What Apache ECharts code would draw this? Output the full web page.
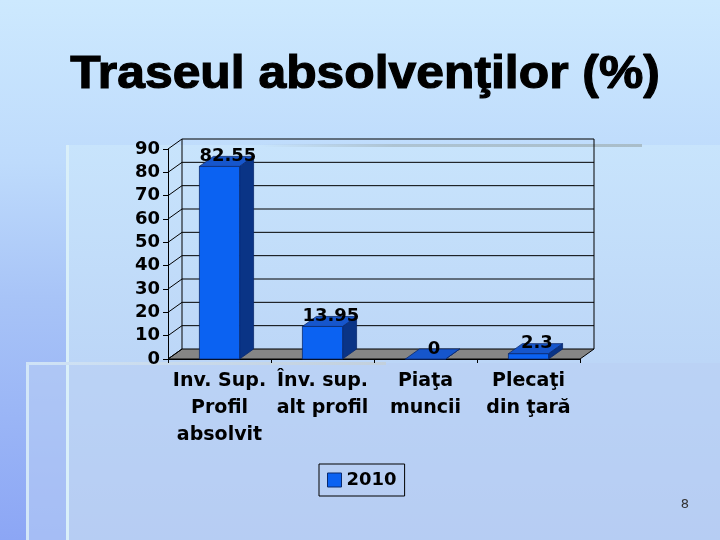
<!DOCTYPE html>
<html>
<head>
<meta charset="utf-8">
<script src="https://cdn.jsdelivr.net/npm/echarts@6/dist/echarts.min.js"></script>
<style>
html,body{margin:0;padding:0;width:720px;height:540px;overflow:hidden;}
#chart{width:720px;height:540px;}
</style>
</head>
<body>
<div id="chart"></div>
<script>
const titleText = 'Traseul absolvenţilor (%)';
const categories = ['Inv. Sup.\nProfil\nabsolvit', 'Înv. sup.\nalt profil', 'Piaţa\nmuncii', 'Plecaţi\ndin ţară'];
const seriesName = '2010';
const values2010 = [82.55, 13.95, 0, 2.3];
const yTicks = [0, 10, 20, 30, 40, 50, 60, 70, 80, 90];
const pageNumber = '8';

const DX = 14, DY = -10;
const FONT = 'DejaVu Sans';

const chart = echarts.init(document.getElementById('chart'));

function wallItem(params, api) {
  const cs = params.coordSys;
  const v = api.value(1);
  const y = api.coord([0, v])[1];
  const L = cs.x, R = cs.x + cs.width;
  const children = [];
  const ls = {stroke: '#000', lineWidth: 1};
  if (v === 0) {
    children.push({type: 'polygon', shape: {points: [[L, y], [R, y], [R + DX, y + DY], [L + DX, y + DY]]},
      style: {fill: '#858585', stroke: '#000', lineWidth: 1}});
    children.push({type: 'line', shape: {x1: L + DX, y1: y + DY, x2: L + DX, y2: cs.y + DY}, style: ls});
    children.push({type: 'line', shape: {x1: R + DX, y1: y + DY, x2: R + DX, y2: cs.y + DY}, style: ls});
  } else {
    children.push({type: 'line', shape: {x1: L + DX, y1: y + DY, x2: R + DX, y2: y + DY}, style: ls});
  }
  children.push({type: 'line', shape: {x1: L, y1: y, x2: L + DX, y2: y + DY}, style: ls});
  return {type: 'group', children: children};
}

function barItem(params, api) {
  const idx = api.value(0), v = api.value(1);
  const base = api.coord([idx, 0]);
  const top = api.coord([idx, v]);
  const bw = api.size([1, 0])[0] * 0.39;
  const l = base[0] - bw / 2, r = base[0] + bw / 2;
  const t = top[1], b = base[1];
  const edge = '#0a2a6e';
  return {type: 'group', children: [
    {type: 'polygon', shape: {points: [[r, t], [r + DX, t + DY], [r + DX, b + DY], [r, b]]},
      style: {fill: '#0a3486', stroke: edge, lineWidth: 0.8}},
    {type: 'rect', shape: {x: l, y: t, width: bw, height: b - t},
      style: {fill: '#0b62f2', stroke: edge, lineWidth: 0.8}},
    {type: 'polygon', shape: {points: [[l, t], [r, t], [r + DX, t + DY], [l + DX, t + DY]]},
      style: {fill: '#1656cc', stroke: edge, lineWidth: 0.8}},
    {type: 'text', x: base[0] + DX * 0.6, y: t + DY,
      style: {text: String(v), fill: '#000', font: 'bold 18px "' + FONT + '"', align: 'center', verticalAlign: 'middle'}}
  ]};
}

const option = {
  backgroundColor: 'transparent',
  animation: false,
  graphic: [
    {type: 'rect', z: -20, shape: {x: 0, y: 0, width: 720, height: 540},
      style: {fill: new echarts.graphic.LinearGradient(0, 0, 0, 1, [
        {offset: 0, color: '#cde9fe'}, {offset: 0.3, color: '#bedbfc'}, {offset: 0.55, color: '#a8c4f7'}, {offset: 1, color: '#8ca6f5'}])}},
    {type: 'rect', z: -19, shape: {x: 68, y: 145, width: 652, height: 395},
      style: {fill: new echarts.graphic.LinearGradient(0, 0, 0, 1, [
        {offset: 0, color: '#c8e4fc'}, {offset: 0.55, color: '#bcd6f7'}, {offset: 1, color: '#b2caf1'}])}},
    {type: 'rect', z: -18, shape: {x: 27, y: 363, width: 693, height: 177},
      style: {fill: 'rgba(186,208,244,0.55)'}},
    {type: 'rect', z: -17, shape: {x: 66, y: 145, width: 3, height: 395}, style: {fill: '#d9eff9'}},
    {type: 'rect', z: -17, shape: {x: 26, y: 363, width: 3, height: 177}, style: {fill: '#d2e6f8'}},
    {type: 'rect', z: -17, shape: {x: 26, y: 362, width: 360, height: 3},
      style: {fill: new echarts.graphic.LinearGradient(0, 0, 1, 0, [
        {offset: 0, color: '#cfe3f7'}, {offset: 1, color: '#c3d0dc'}])}},
    {type: 'rect', z: -17, shape: {x: 260, y: 144, width: 382, height: 3},
      style: {fill: new echarts.graphic.LinearGradient(0, 0, 1, 0, [
        {offset: 0, color: 'rgba(168,188,200,0)'}, {offset: 0.35, color: 'rgba(168,188,200,0.8)'}, {offset: 1, color: '#a9bdc9'}])}},
    {type: 'text', z: 10, x: 365, y: 75, scaleX: 1.06,
      style: {text: titleText, fill: '#000', font: 'bold 47px "Liberation Sans", Arial, sans-serif',
        align: 'center', verticalAlign: 'middle', stroke: '#000', lineWidth: 1.2}},
    {type: 'text', z: 10, x: 685, y: 505,
      style: {text: pageNumber, fill: '#333', font: '13px "DejaVu Sans", sans-serif', align: 'center', verticalAlign: 'middle'}}
  ],
  grid: {left: 168, right: 140, top: 149, bottom: 181, containLabel: false},
  legend: {
    data: [{name: seriesName, icon: 'rect'}],
    left: 319, top: 464,
    itemWidth: 14, itemHeight: 14, itemGap: 6,
    padding: [7, 8, 7, 8],
    borderColor: '#000', borderWidth: 1,
    itemStyle: {borderColor: '#0a2a6e', borderWidth: 1},
    textStyle: {fontFamily: FONT, fontWeight: 'bold', fontSize: 18, color: '#000'}
  },
  xAxis: {
    type: 'category', data: categories,
    axisLine: {show: true, lineStyle: {color: '#000', width: 1}},
    axisTick: {show: true, length: 4, lineStyle: {color: '#000'}},
    axisLabel: {interval: 0, margin: 9, fontFamily: FONT, fontWeight: 'bold', fontSize: 19,
      lineHeight: 27, color: '#000'},
    splitLine: {show: false}
  },
  yAxis: {
    type: 'value', min: 0, max: 90, interval: 10,
    axisLine: {show: true, lineStyle: {color: '#000', width: 1}},
    axisTick: {show: true, length: 5, lineStyle: {color: '#000'}},
    axisLabel: {margin: 8, fontFamily: FONT, fontWeight: 'bold', fontSize: 18, color: '#000'},
    splitLine: {show: false}
  },
  series: [
    {type: 'custom', name: 'wall', silent: true, z: 1, renderItem: wallItem,
      data: yTicks.map(v => [0, v]), encode: {x: 0, y: 1}},
    {type: 'custom', name: seriesName, z: 3, renderItem: barItem,
      itemStyle: {color: '#0b62f2'},
      data: values2010.map((v, i) => [i, v]), encode: {x: 0, y: 1}}
  ]
};
chart.setOption(option);
</script>
</body>
</html>
